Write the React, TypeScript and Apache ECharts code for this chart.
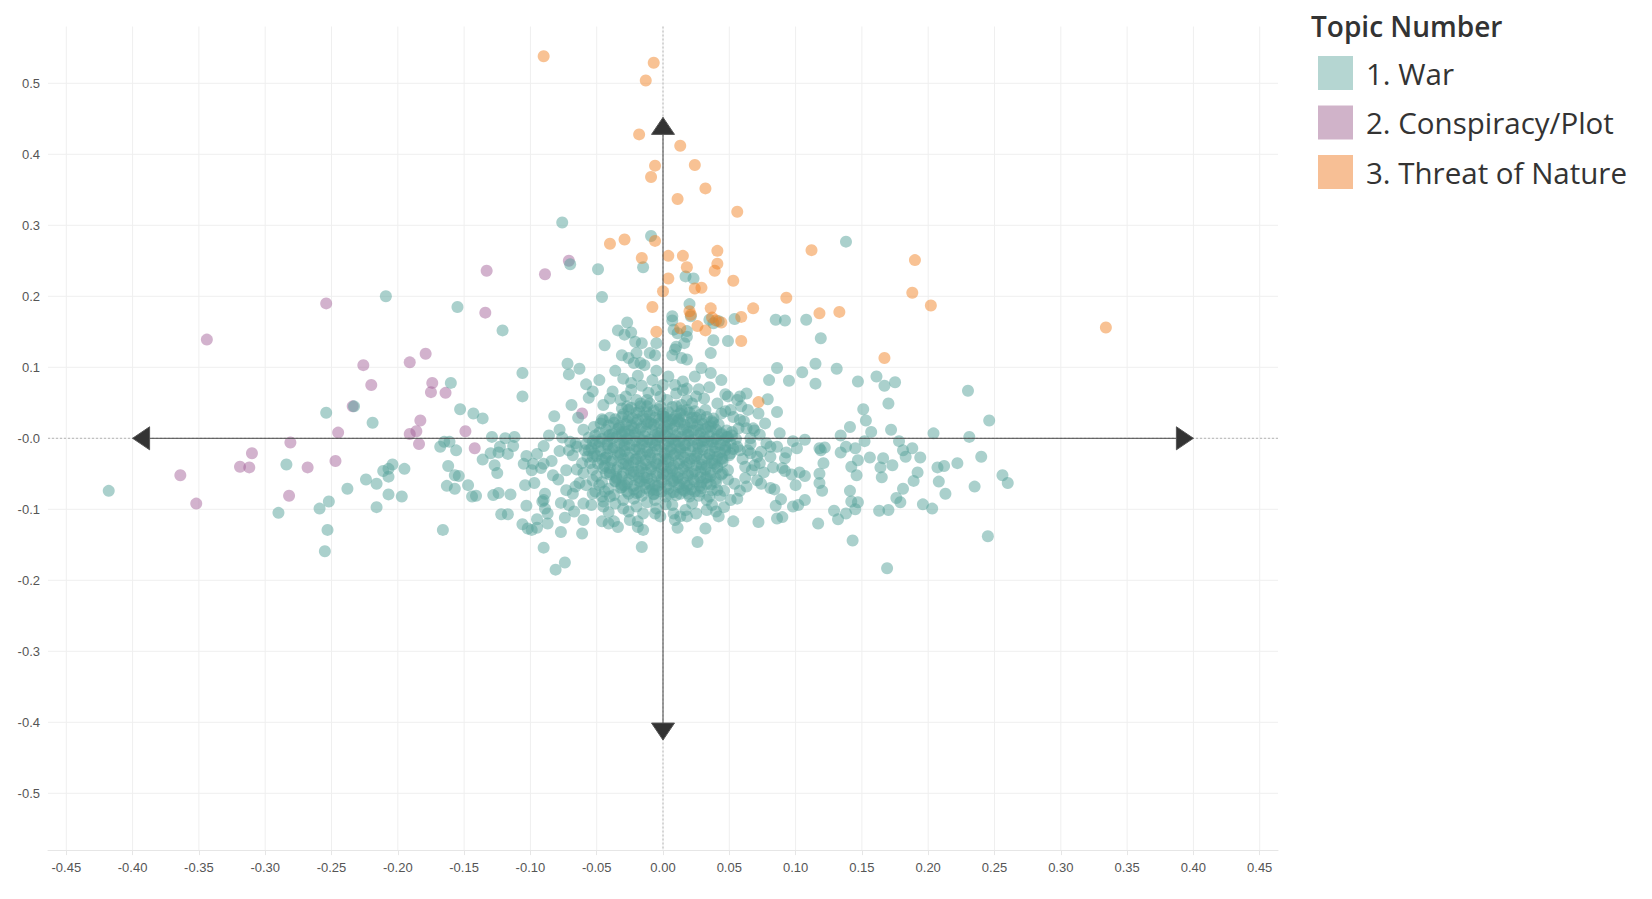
import React, { useEffect, useRef } from "react";
import * as echarts from "echarts";

// ---------- axis ticks ----------
const xTicks = [-0.45, -0.4, -0.35, -0.3, -0.25, -0.2, -0.15, -0.1, -0.05, 0, 0.05, 0.1, 0.15, 0.2, 0.25, 0.3, 0.35, 0.4, 0.45];
const yTicks = [-0.5, -0.4, -0.3, -0.2, -0.1, 0, 0.1, 0.2, 0.3, 0.4, 0.5];

// ---------- legend ----------
const legendTitle = "Topic Number";
const topicNames = ["1. War", "2. Conspiracy/Plot", "3. Threat of Nature"];

// ---------- axis arrows (x1, y1, x2, y2) ----------
const axisArrows = [
  [-0.4, 0, 0.4, 0],
  [0, -0.425, 0, 0.452],
];

// ---------- Topic 2: Conspiracy/Plot ----------
const conspiracy = [
  [-0.254, 0.19], [-0.344, 0.139], [-0.134, 0.177], [-0.226, 0.103], [-0.191, 0.107], [-0.179, 0.119],
  [-0.22, 0.075], [-0.174, 0.078], [-0.175, 0.065], [-0.164, 0.064], [-0.234, 0.045], [-0.183, 0.025],
  [-0.186, 0.01], [-0.191, 0.006], [-0.149, 0.01], [-0.245, 0.008], [-0.184, -0.008], [-0.142, -0.014],
  [-0.281, -0.006], [-0.31, -0.021], [-0.319, -0.04], [-0.312, -0.041], [-0.268, -0.041], [-0.247, -0.032],
  [-0.364, -0.052], [-0.282, -0.081], [-0.352, -0.092], [-0.071, 0.25], [-0.089, 0.231], [-0.133, 0.236],
  [-0.061, 0.035],
];

// ---------- Topic 3: Threat of Nature ----------
const threat = [
  [-0.09, 0.538], [-0.007, 0.529], [-0.013, 0.504], [-0.018, 0.428], [0.013, 0.412], [-0.006, 0.384],
  [0.024, 0.385], [-0.009, 0.368], [0.032, 0.352], [0.011, 0.337], [0.056, 0.319], [-0.04, 0.274],
  [-0.029, 0.28], [-0.006, 0.278], [-0.016, 0.254], [0.004, 0.257], [0.015, 0.257], [0.041, 0.264],
  [0.041, 0.246], [0.018, 0.241], [0.039, 0.236], [0.004, 0.225], [0.053, 0.222], [0.0, 0.207],
  [0.024, 0.211], [0.029, 0.212], [0.112, 0.265], [0.093, 0.198], [-0.008, 0.185], [0.036, 0.183],
  [0.068, 0.183], [0.02, 0.179], [0.021, 0.174], [0.059, 0.171], [0.118, 0.176], [0.133, 0.178],
  [0.037, 0.17], [0.04, 0.166], [0.044, 0.163], [0.026, 0.158], [0.013, 0.155], [0.032, 0.152],
  [-0.005, 0.15], [0.059, 0.137], [0.334, 0.156], [0.19, 0.251], [0.188, 0.205], [0.202, 0.187],
  [0.167, 0.113], [0.072, 0.051],
];

// ---------- Topic 1: War (left side) ----------
const warLeft = [
  [-0.418, -0.074], [-0.29, -0.105], [-0.284, -0.037], [-0.259, -0.099], [-0.255, -0.159], [-0.254, 0.036],
  [-0.253, -0.129], [-0.252, -0.089], [-0.238, -0.071], [-0.233, 0.045], [-0.224, -0.058], [-0.219, 0.022],
  [-0.216, -0.064], [-0.216, -0.097], [-0.211, -0.046], [-0.209, 0.2], [-0.207, -0.043], [-0.207, -0.054],
  [-0.207, -0.079], [-0.204, -0.037], [-0.197, -0.082], [-0.195, -0.043], [-0.168, -0.012], [-0.166, -0.129],
  [-0.165, -0.005], [-0.163, -0.067], [-0.162, -0.039], [-0.161, -0.005], [-0.16, 0.078], [-0.157, -0.052],
  [-0.157, -0.071], [-0.156, -0.017], [-0.155, 0.185], [-0.154, -0.053], [-0.153, 0.041], [-0.147, -0.066],
  [-0.144, -0.082], [-0.143, 0.035], [-0.141, -0.081], [-0.136, 0.028], [-0.136, -0.03], [-0.13, -0.021],
  [-0.129, 0.002], [-0.128, -0.08], [-0.127, -0.038], [-0.125, -0.049], [-0.124, -0.02], [-0.124, -0.077],
  [-0.123, -0.012], [-0.122, -0.107], [-0.121, 0.152], [-0.119, 0.0], [-0.117, -0.022], [-0.117, -0.107],
  [-0.115, -0.079], [-0.113, -0.011], [-0.112, 0.002], [-0.106, 0.092], [-0.106, 0.059], [-0.106, -0.121],
  [-0.105, -0.036], [-0.104, -0.066], [-0.103, -0.025], [-0.103, -0.095], [-0.102, -0.127], [-0.099, -0.045],
  [-0.099, -0.129], [-0.098, -0.036], [-0.097, -0.063], [-0.095, -0.022], [-0.095, -0.114], [-0.095, -0.126],
  [-0.092, -0.042], [-0.091, -0.089], [-0.09, -0.011], [-0.09, -0.036], [-0.09, -0.154], [-0.09, -0.087],
  [-0.089, -0.099], [-0.089, -0.078], [-0.087, -0.106], [-0.087, -0.12], [-0.083, -0.052], [-0.082, 0.031],
  [-0.081, -0.185], [-0.078, 0.012], [-0.077, -0.091], [-0.077, -0.132], [-0.076, 0.001], [-0.074, -0.175],
  [-0.073, -0.045], [-0.073, -0.073], [-0.072, 0.105], [-0.071, 0.09], [-0.071, -0.094], [-0.071, -0.017],
  [-0.07, -0.005], [-0.068, -0.024], [-0.068, -0.078], [-0.066, -0.068], [-0.066, -0.007], [-0.065, -0.012],
  [-0.063, 0.098], [-0.063, -0.063], [-0.061, -0.035], [-0.061, -0.134], [-0.06, -0.049], [-0.06, -0.092],
  [-0.06, -0.115], [-0.06, 0.012], [-0.084, -0.032], [-0.079, -0.058], [-0.067, -0.103], [-0.074, -0.112],
  [-0.064, 0.029], [-0.069, 0.047], [-0.058, 0.076], [-0.065, -0.044], [-0.078, -0.018], [-0.086, 0.004],
];

// ---------- Topic 1: War (around the centre) ----------
const warMid = [
  [-0.053, 0.066], [-0.056, 0.057], [-0.046, 0.027], [-0.048, -0.005], [-0.04, 0.005], [-0.031, 0.009],
  [-0.059, -0.017], [-0.054, -0.014], [-0.053, -0.026], [-0.058, -0.066], [-0.053, -0.059], [-0.051, -0.075],
  [-0.053, -0.078], [-0.046, -0.082], [-0.044, -0.075], [-0.043, -0.049], [-0.036, -0.061], [-0.032, -0.07],
  [-0.045, -0.096], [-0.054, -0.094], [-0.045, -0.089], [-0.04, -0.082], [-0.046, -0.117], [-0.041, -0.12],
  [-0.037, -0.117], [-0.034, -0.125], [-0.025, -0.115], [-0.026, -0.103], [-0.03, -0.099], [-0.03, -0.087],
  [-0.022, -0.085], [-0.02, -0.096], [-0.019, -0.117], [-0.019, -0.125], [-0.015, -0.129], [-0.015, -0.106],
  [-0.016, -0.153], [-0.006, -0.087], [-0.005, -0.099], [-0.006, -0.106], [-0.002, -0.11], [-0.007, -0.078],
  [0.007, -0.094], [0.008, -0.106], [0.009, -0.115], [0.013, -0.11], [0.018, -0.11], [0.017, -0.101],
  [0.025, -0.106], [0.033, -0.101], [0.033, -0.087], [0.04, -0.103], [0.042, -0.11], [0.046, -0.097],
  [0.051, -0.087], [0.053, -0.117], [0.056, -0.085], [0.013, -0.078], [0.02, -0.082], [0.028, -0.075],
  [0.035, -0.082], [0.041, -0.073], [0.043, -0.081], [0.046, -0.074], [0.032, -0.127], [0.026, -0.146],
  [0.072, -0.118], [-0.012, -0.09], [0.002, -0.093], [0.022, -0.092], [0.037, -0.094], [-0.036, -0.092],
  [-0.048, -0.066], [0.054, -0.064], [0.058, -0.074], [0.049, -0.058], [-0.041, -0.104], [0.011, -0.126],
];

// ---------- Topic 1: War (upper part) ----------
const warUpper = [
  [-0.076, 0.304], [-0.07, 0.245], [-0.049, 0.238], [-0.046, 0.199], [-0.015, 0.241], [-0.009, 0.285],
  [0.017, 0.228], [0.023, 0.225], [0.02, 0.189], [0.021, 0.172], [0.007, 0.172], [0.007, 0.166],
  [0.035, 0.167], [0.038, 0.162], [0.042, 0.165], [0.054, 0.168], [0.085, 0.167], [0.092, 0.166],
  [0.108, 0.167], [0.119, 0.141], [0.138, 0.277], [0.038, 0.138], [0.049, 0.137], [-0.027, 0.163],
  [-0.034, 0.152], [-0.029, 0.146], [-0.024, 0.149], [-0.021, 0.136], [-0.016, 0.134], [-0.044, 0.131],
  [0.011, 0.148], [0.018, 0.151], [0.01, 0.129], [0.016, 0.134], [0.018, 0.143], [0.008, 0.153],
  [0.014, 0.113], [0.018, 0.111], [0.007, 0.117], [0.009, 0.125], [-0.005, 0.134], [-0.01, 0.12],
  [-0.02, 0.12], [-0.031, 0.117], [-0.026, 0.113], [-0.022, 0.106], [-0.017, 0.106], [-0.014, 0.103],
  [-0.006, 0.117], [-0.005, 0.095], [0.036, 0.12], [0.029, 0.099], [0.036, 0.092], [0.004, 0.087],
  [0.015, 0.08], [0.018, 0.07], [0.009, 0.075], [0.01, 0.063], [0.0, 0.075], [-0.005, 0.068],
  [-0.002, 0.059], [0.003, 0.054], [0.015, 0.068], [0.018, 0.054], [0.025, 0.059], [0.027, 0.069],
  [0.01, 0.045], [0.014, 0.047], [0.002, 0.03], [0.007, 0.026], [0.013, 0.035], [-0.036, 0.095],
  [-0.03, 0.084], [-0.024, 0.078], [-0.016, 0.074], [-0.024, 0.068], [-0.04, 0.056], [-0.032, 0.054],
  [-0.031, 0.042], [-0.026, 0.04], [-0.02, 0.054], [-0.017, 0.045], [-0.012, 0.054], [-0.027, 0.045],
  [-0.017, 0.049], [-0.01, 0.049], [-0.002, 0.045], [0.044, 0.082], [0.049, 0.059], [0.058, 0.059],
  [0.063, 0.063], [0.047, 0.062], [0.056, 0.054], [0.032, 0.04], [0.041, 0.049], [0.044, 0.035],
  [0.038, 0.028], [0.047, 0.038], [0.053, 0.03], [0.051, 0.04], [0.059, 0.045], [0.064, 0.04],
  [0.072, 0.035], [0.058, 0.026], [0.057, 0.014], [0.063, 0.014], [0.068, 0.014], [0.069, 0.011],
  [-0.045, 0.047], [-0.038, 0.066], [-0.028, 0.059], [-0.011, 0.064], [-0.008, 0.082], [-0.019, 0.088],
  [0.022, 0.049], [0.031, 0.056], [0.035, 0.072], [0.024, 0.087], [-0.048, 0.082], [-0.012, 0.037],
];

// ---------- Topic 1: War (right side) ----------
const warRight = [
  [0.049, 0.002], [0.056, -0.012], [0.058, -0.017], [0.066, -0.021], [0.062, -0.04], [0.069, -0.038],
  [0.062, -0.056], [0.071, -0.059], [0.063, -0.068], [0.066, 0.0], [0.073, 0.005], [0.078, -0.007],
  [0.081, -0.012], [0.064, -0.017], [0.071, -0.026], [0.074, -0.019], [0.081, -0.026], [0.067, -0.045],
  [0.073, -0.035], [0.086, 0.099], [0.08, 0.082], [0.095, 0.081], [0.086, 0.037], [0.079, 0.055],
  [0.088, 0.007], [0.098, -0.004], [0.107, -0.002], [0.101, -0.014], [0.086, -0.012], [0.093, -0.02],
  [0.092, -0.028], [0.09, -0.042], [0.092, -0.046], [0.097, -0.051], [0.103, -0.048], [0.107, -0.053],
  [0.1, -0.066], [0.074, -0.064], [0.081, -0.07], [0.084, -0.072], [0.089, -0.086], [0.085, -0.095],
  [0.086, -0.113], [0.09, -0.111], [0.098, -0.096], [0.102, -0.094], [0.107, -0.087], [0.115, 0.105],
  [0.131, 0.098], [0.115, 0.077], [0.105, 0.093], [0.147, 0.08], [0.161, 0.087], [0.167, 0.074],
  [0.175, 0.079], [0.17, 0.049], [0.23, 0.067], [0.246, 0.025], [0.151, 0.041], [0.153, 0.025],
  [0.157, 0.009], [0.141, 0.016], [0.134, 0.004], [0.172, 0.012], [0.204, 0.007], [0.231, 0.002],
  [0.152, -0.004], [0.178, -0.004], [0.118, -0.014], [0.122, -0.013], [0.119, -0.017], [0.138, -0.012],
  [0.145, -0.014], [0.134, -0.02], [0.181, -0.017], [0.188, -0.014], [0.183, -0.026], [0.194, -0.027],
  [0.147, -0.031], [0.156, -0.027], [0.166, -0.028], [0.121, -0.035], [0.24, -0.026], [0.222, -0.035],
  [0.212, -0.039], [0.207, -0.041], [0.164, -0.041], [0.173, -0.038], [0.142, -0.04], [0.118, -0.05],
  [0.118, -0.063], [0.12, -0.074], [0.146, -0.052], [0.165, -0.055], [0.192, -0.048], [0.189, -0.06],
  [0.208, -0.061], [0.256, -0.052], [0.26, -0.063], [0.235, -0.068], [0.213, -0.078], [0.181, -0.071],
  [0.141, -0.074], [0.176, -0.084], [0.179, -0.09], [0.142, -0.089], [0.147, -0.09], [0.145, -0.1],
  [0.129, -0.102], [0.138, -0.106], [0.132, -0.114], [0.163, -0.102], [0.17, -0.101], [0.196, -0.093],
  [0.203, -0.099], [0.117, -0.12], [0.245, -0.138], [0.143, -0.144], [0.169, -0.183],
  [0.061, 0.024], [0.066, -0.008], [0.076, -0.048], [0.06, -0.029], [0.083, -0.041], [0.077, 0.021],
];

// ---------- Topic 1: War (dense core around the origin, interleaved layers) ----------
const warCore = [
  [-0.024, 0.043], [-0.012, 0.045], [-0.003, 0.041], [0.007, 0.044], [0.018, 0.04],
  [-0.03, 0.034], [-0.02, 0.036], [-0.01, 0.033], [0.0, 0.035], [0.01, 0.032], [0.02, 0.036], [0.028, 0.033],
  [-0.045, 0.025], [-0.036, 0.027], [-0.027, 0.024], [-0.019, 0.026], [-0.011, 0.023], [-0.003, 0.026],
  [0.004, 0.024], [0.012, 0.027], [0.021, 0.023], [0.029, 0.026], [0.037, 0.024],
  [-0.052, 0.016], [-0.041, 0.018], [-0.033, 0.015], [-0.024, 0.018], [-0.016, 0.016], [-0.007, 0.019],
  [0.001, 0.016], [0.009, 0.018], [0.018, 0.015], [0.026, 0.018], [0.034, 0.016], [0.042, 0.019],
  [-0.048, 0.008], [-0.038, 0.006], [-0.029, 0.009], [-0.021, 0.007], [-0.013, 0.01], [-0.004, 0.007],
  [0.003, 0.009], [0.011, 0.006], [0.019, 0.009], [0.028, 0.007], [0.036, 0.01], [0.044, 0.007], [0.052, 0.009],
  [-0.056, 0.001], [-0.046, -0.001], [-0.035, 0.002], [-0.027, -0.001], [-0.018, 0.001], [-0.01, -0.002],
  [-0.002, 0.001], [0.006, -0.001], [0.014, 0.002], [0.023, -0.002], [0.031, 0.001], [0.04, -0.001],
  [0.048, 0.002], [0.055, -0.001],
  [-0.058, -0.008], [-0.051, -0.007], [-0.042, -0.009], [-0.033, -0.007], [-0.025, -0.01], [-0.016, -0.008],
  [-0.008, -0.006], [0.001, -0.009], [0.009, -0.007], [0.017, -0.01], [0.026, -0.008], [0.034, -0.006],
  [0.043, -0.009], [0.051, -0.007],
  [-0.056, -0.017], [-0.047, -0.018], [-0.038, -0.015], [-0.029, -0.018], [-0.021, -0.016], [-0.012, -0.019],
  [-0.004, -0.016], [0.005, -0.018], [0.013, -0.015], [0.021, -0.018], [0.03, -0.016], [0.039, -0.019],
  [0.047, -0.017], [0.053, -0.015],
  [-0.057, -0.026], [-0.05, -0.025], [-0.043, -0.027], [-0.034, -0.024], [-0.026, -0.027], [-0.017, -0.025],
  [-0.009, -0.028], [0.0, -0.026], [0.008, -0.024], [0.016, -0.027], [0.025, -0.025], [0.033, -0.028],
  [0.041, -0.026], [0.05, -0.024],
  [-0.055, -0.035], [-0.049, -0.036], [-0.039, -0.033], [-0.03, -0.036], [-0.022, -0.034], [-0.013, -0.037],
  [-0.005, -0.035], [0.004, -0.033], [0.012, -0.036], [0.02, -0.034], [0.029, -0.037], [0.037, -0.035],
  [0.045, -0.033],
  [-0.053, -0.044], [-0.045, -0.042], [-0.035, -0.045], [-0.026, -0.043], [-0.018, -0.046], [-0.009, -0.044],
  [-0.001, -0.042], [0.007, -0.045], [0.015, -0.043], [0.024, -0.046], [0.032, -0.044], [0.041, -0.042],
  [0.049, -0.045],
  [-0.05, -0.053], [-0.04, -0.051], [-0.031, -0.054], [-0.022, -0.052], [-0.014, -0.055], [-0.005, -0.053],
  [0.003, -0.051], [0.011, -0.054], [0.019, -0.052], [0.028, -0.055], [0.036, -0.053], [0.044, -0.051],
  [-0.046, -0.062], [-0.036, -0.06], [-0.027, -0.063], [-0.018, -0.061], [-0.01, -0.064], [-0.001, -0.062],
  [0.008, -0.06], [0.016, -0.063], [0.024, -0.061], [0.033, -0.064], [0.04, -0.062],
  [-0.041, -0.071], [-0.031, -0.069], [-0.022, -0.072], [-0.013, -0.07], [-0.005, -0.073], [0.004, -0.071],
  [0.012, -0.069], [0.021, -0.072], [0.029, -0.07], [0.037, -0.073],
  [-0.037, -0.08], [-0.026, -0.078], [-0.016, -0.081], [-0.007, -0.079], [0.002, -0.082], [0.01, -0.08],
  [0.019, -0.078], [0.027, -0.081],
  // second layer, offset
  [-0.018, 0.038], [-0.007, 0.039], [0.004, 0.037], [0.014, 0.039], [0.024, 0.038],
  [-0.04, 0.029], [-0.031, 0.03], [-0.023, 0.028], [-0.015, 0.031], [-0.006, 0.029], [0.001, 0.03],
  [0.008, 0.028], [0.016, 0.031], [0.025, 0.029], [0.033, 0.03],
  [-0.047, 0.021], [-0.037, 0.022], [-0.028, 0.02], [-0.02, 0.022], [-0.012, 0.02], [-0.003, 0.021],
  [0.005, 0.02], [0.013, 0.022], [0.022, 0.021], [0.03, 0.02], [0.038, 0.022],
  [-0.043, 0.012], [-0.034, 0.013], [-0.025, 0.011], [-0.017, 0.013], [-0.008, 0.012], [-0.001, 0.011],
  [0.007, 0.013], [0.015, 0.012], [0.023, 0.011], [0.032, 0.013], [0.04, 0.012], [0.048, 0.011],
  [-0.051, 0.004], [-0.041, 0.003], [-0.031, 0.005], [-0.022, 0.004], [-0.014, 0.003], [-0.006, 0.005],
  [0.002, 0.004], [0.01, 0.003], [0.019, 0.005], [0.027, 0.004], [0.035, 0.003], [0.044, 0.005], [0.052, 0.004],
  [-0.053, -0.004], [-0.042, -0.005], [-0.03, -0.003], [-0.021, -0.004], [-0.012, -0.005], [-0.005, -0.003],
  [0.004, -0.004], [0.012, -0.005], [0.02, -0.003], [0.029, -0.004], [0.037, -0.005], [0.046, -0.003],
  [-0.049, -0.012], [-0.037, -0.013], [-0.029, -0.011], [-0.02, -0.012], [-0.012, -0.013], [-0.003, -0.011],
  [0.005, -0.012], [0.013, -0.013], [0.022, -0.011], [0.03, -0.012], [0.039, -0.013], [0.047, -0.011],
  [-0.052, -0.021], [-0.042, -0.022], [-0.033, -0.02], [-0.025, -0.021], [-0.016, -0.022], [-0.008, -0.02],
  [0.001, -0.021], [0.009, -0.022], [0.017, -0.02], [0.026, -0.021], [0.035, -0.022], [0.043, -0.02], [0.051, -0.021],
  [-0.046, -0.03], [-0.038, -0.031], [-0.03, -0.029], [-0.021, -0.03], [-0.013, -0.031], [-0.004, -0.029],
  [0.004, -0.03], [0.012, -0.031], [0.021, -0.029], [0.029, -0.03], [0.037, -0.031], [0.045, -0.029],
  [-0.044, -0.039], [-0.034, -0.04], [-0.026, -0.038], [-0.017, -0.039], [-0.009, -0.04], [0.0, -0.038],
  [0.008, -0.039], [0.016, -0.04], [0.025, -0.038], [0.033, -0.039], [0.041, -0.04],
  [-0.04, -0.048], [-0.03, -0.049], [-0.022, -0.047], [-0.013, -0.048], [-0.005, -0.049], [0.003, -0.047],
  [0.011, -0.048], [0.019, -0.049], [0.028, -0.047], [0.036, -0.048], [0.045, -0.049],
  [-0.035, -0.057], [-0.026, -0.058], [-0.018, -0.056], [-0.009, -0.057], [-0.001, -0.058], [0.007, -0.056],
  [0.015, -0.057], [0.023, -0.058], [0.032, -0.056], [0.04, -0.057],
  [-0.031, -0.066], [-0.022, -0.067], [-0.014, -0.065], [-0.006, -0.066], [0.003, -0.067], [0.012, -0.065],
  [0.02, -0.066], [0.028, -0.067], [0.036, -0.065],
  [-0.027, -0.075], [-0.018, -0.076], [-0.01, -0.074], [-0.001, -0.075], [0.008, -0.076], [0.016, -0.074],
  [0.024, -0.075],
  // third layer, innermost
  [-0.033, 0.018], [-0.022, 0.014], [-0.009, 0.021], [0.003, 0.013], [0.016, 0.019], [0.027, 0.012], [0.036, 0.017],
  [-0.038, 0.0], [-0.026, 0.005], [-0.015, -0.003], [-0.003, 0.003], [0.008, -0.002], [0.019, 0.004], [0.031, -0.003], [0.041, 0.003],
  [-0.041, -0.014], [-0.029, -0.009], [-0.018, -0.015], [-0.006, -0.01], [0.006, -0.015], [0.016, -0.009], [0.027, -0.014], [0.038, -0.008], [0.047, -0.013],
  [-0.044, -0.028], [-0.032, -0.023], [-0.02, -0.029], [-0.01, -0.023], [0.002, -0.029], [0.013, -0.022], [0.024, -0.029], [0.035, -0.023], [0.044, -0.028],
  [-0.04, -0.042], [-0.028, -0.036], [-0.016, -0.042], [-0.005, -0.037], [0.006, -0.042], [0.018, -0.036], [0.029, -0.041], [0.039, -0.036],
  [-0.035, -0.055], [-0.024, -0.049], [-0.012, -0.056], [0.0, -0.05], [0.011, -0.056], [0.022, -0.05], [0.033, -0.055],
  [-0.029, -0.066], [-0.017, -0.061], [-0.004, -0.067], [0.007, -0.061], [0.018, -0.067], [0.029, -0.062],
  [-0.02, -0.077], [-0.008, -0.072], [0.005, -0.078], [0.015, -0.072],
  [-0.026, 0.03], [-0.013, 0.027], [0.0, 0.031], [0.011, 0.024], [0.022, 0.029],
];

const warAll = [...warLeft, ...warMid, ...warUpper, ...warRight, ...warCore];

// ---------- colours ----------
const warColor = "rgba(90,164,155,0.64)";
const conspiracyColor = "rgba(160,95,150,0.6)";
const threatColor = "rgba(240,128,32,0.6)";
const warSwatch = "#A2CCC7";
const conspiracySwatch = "#C4A0BC";
const threatSwatch = "#F5AF7A";

const fmtX = (v: number) => {
  const s = v.toFixed(2);
  return s === "-0.00" ? "0.00" : s;
};
const fmtY = (v: number) => (Math.abs(v) < 1e-9 ? "-0.0" : v.toFixed(1));

export default function App() {
  const ref = useRef<HTMLDivElement>(null);

  useEffect(() => {
    if (!ref.current) return;
    const chart = echarts.init(ref.current, null, { renderer: "svg" });

    const gridData = [
      ...xTicks.map((v) => [v, 0, 0]),
      ...yTicks.map((v) => [0, v, 1]),
    ];
    const zeroData = [
      [0, 0, 0],
      [0, 0, 1],
    ];

    const scatterBase = {
      type: "scatter",
      symbol: "circle",
      symbolSize: 12,
      emphasis: { disabled: true },
      silent: true,
    };

    const option: any = {
      animation: false,
      backgroundColor: "#ffffff",
      title: {
        text: legendTitle,
        left: 1311,
        top: 7,
        padding: 0,
        textStyle: {
          fontFamily: "Open Sans",
          fontSize: 28,
          fontWeight: 600,
          color: "#333333",
          lineHeight: 38,
        },
      },
      legend: {
        orient: "vertical",
        left: 1318,
        top: 56,
        padding: 0,
        itemWidth: 35,
        itemHeight: 34,
        itemGap: 15.5,
        icon: "rect",
        selectedMode: false,
        textStyle: {
          fontFamily: "Open Sans",
          fontSize: 29.5,
          color: "#333333",
          padding: [0, 0, 0, 8],
        },
        data: [
          { name: topicNames[0], itemStyle: { color: warSwatch } },
          { name: topicNames[1], itemStyle: { color: conspiracySwatch } },
          { name: topicNames[2], itemStyle: { color: threatSwatch } },
        ],
      },
      grid: { left: 48, top: 26.5, width: 1230, height: 823.6, containLabel: false },
      xAxis: {
        type: "value",
        min: -0.4638,
        max: 0.4638,
        splitLine: { show: false },
        axisLine: { show: true, onZero: false, lineStyle: { color: "#e6e6e6", width: 1 } },
        axisTick: { show: true, customValues: xTicks, length: 5, lineStyle: { color: "#e6e6e6" } },
        axisLabel: {
          customValues: xTicks,
          formatter: fmtX,
          color: "#555555",
          fontSize: 13,
          fontFamily: "Liberation Sans",
          margin: 11,
        },
      },
      yAxis: {
        type: "value",
        min: -0.58,
        max: 0.58,
        splitLine: { show: false },
        axisLine: { show: false, onZero: false },
        axisTick: { show: false },
        axisLabel: {
          customValues: yTicks,
          formatter: fmtY,
          color: "#555555",
          fontSize: 13,
          fontFamily: "Liberation Sans",
          margin: 8,
        },
      },
      series: [
        {
          type: "custom",
          silent: true,
          z: 0,
          data: gridData,
          encode: { x: 0, y: 1 },
          renderItem: (params: any, api: any) => {
            const cs = params.coordSys;
            const dir = api.value(2);
            if (dir === 0) {
              const p = api.coord([api.value(0), 0]);
              return {
                type: "line",
                shape: { x1: p[0], y1: cs.y, x2: p[0], y2: cs.y + cs.height },
                style: { stroke: "#efefef", lineWidth: 1 },
              };
            }
            const p = api.coord([0, api.value(1)]);
            return {
              type: "line",
              shape: { x1: cs.x, y1: p[1], x2: cs.x + cs.width, y2: p[1] },
              style: { stroke: "#efefef", lineWidth: 1 },
            };
          },
        },
        {
          type: "custom",
          silent: true,
          z: 1,
          data: zeroData,
          encode: { x: 0, y: 1 },
          renderItem: (params: any, api: any) => {
            const cs = params.coordSys;
            const dir = api.value(2);
            const p = api.coord([api.value(0), api.value(1)]);
            const shape =
              dir === 0
                ? { x1: p[0], y1: cs.y, x2: p[0], y2: cs.y + cs.height }
                : { x1: cs.x, y1: p[1], x2: cs.x + cs.width, y2: p[1] };
            return {
              type: "line",
              shape,
              style: { stroke: "#b5b5b5", lineWidth: 1, lineDash: [2, 2] },
            };
          },
        },
        {
          ...scatterBase,
          name: topicNames[1],
          z: 2,
          data: conspiracy,
          itemStyle: { color: conspiracyColor },
        },
        {
          ...scatterBase,
          name: topicNames[0],
          z: 3,
          data: warAll,
          itemStyle: { color: warColor },
        },
        {
          ...scatterBase,
          name: topicNames[2],
          z: 4,
          data: threat,
          itemStyle: { color: threatColor },
        },
        {
          type: "custom",
          silent: true,
          z: 10,
          data: axisArrows,
          encode: { x: [0, 2], y: [1, 3] },
          renderItem: (params: any, api: any) => {
            const a = api.coord([api.value(0), api.value(1)]);
            const b = api.coord([api.value(2), api.value(3)]);
            const dx = b[0] - a[0];
            const dy = b[1] - a[1];
            const len = Math.hypot(dx, dy) || 1;
            const ux = dx / len;
            const uy = dy / len;
            const px = -uy;
            const py = ux;
            const L = 17;
            const W = 11.5;
            const head = (t: number[], ex: number, ey: number) => [
              [t[0], t[1]],
              [t[0] - ex * L + px * W, t[1] - ey * L + py * W],
              [t[0] - ex * L - px * W, t[1] - ey * L - py * W],
            ];
            return {
              type: "group",
              children: [
                {
                  type: "line",
                  shape: { x1: a[0], y1: a[1], x2: b[0], y2: b[1] },
                  style: { stroke: "#4a4a4a", lineWidth: 1 },
                },
                {
                  type: "polygon",
                  shape: { points: head(b, ux, uy) },
                  style: { fill: "#333333", stroke: "#555555", lineWidth: 1 },
                },
                {
                  type: "polygon",
                  shape: { points: head(a, -ux, -uy) },
                  style: { fill: "#333333", stroke: "#555555", lineWidth: 1 },
                },
              ],
            };
          },
        },
      ],
    };

    chart.setOption(option);
    return () => chart.dispose();
  }, []);

  return (
    <div
      ref={ref}
      style={{ position: "fixed", left: 0, top: 0, width: "1652px", height: "899px", background: "#ffffff" }}
    />
  );
}
